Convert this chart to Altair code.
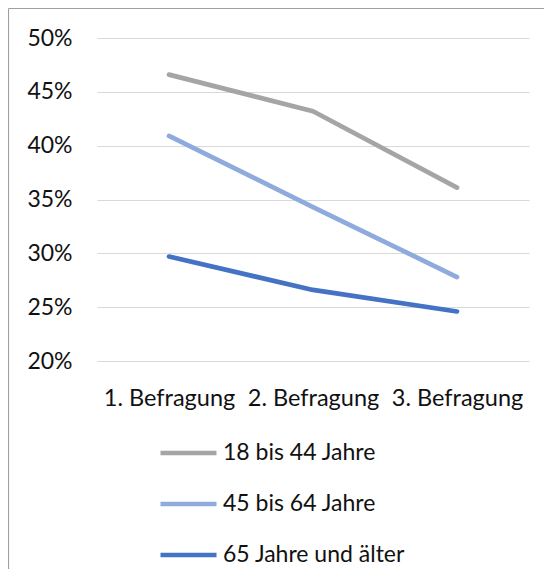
import altair as alt
import pandas as pd

befragungen = ["1. Befragung", "2. Befragung", "3. Befragung"]
gruppen = ["18 bis 44 Jahre", "45 bis 64 Jahre", "65 Jahre und älter"]
werte_18_44 = [0.466, 0.432, 0.361]
werte_45_64 = [0.409, 0.343, 0.278]
werte_65 = [0.297, 0.266, 0.246]
farben = ["#A5A5A5", "#8FAADC", "#4472C4"]
y_ticks = [0.20, 0.25, 0.30, 0.35, 0.40, 0.45, 0.50]

rows = []
for g, vals in zip(gruppen, [werte_18_44, werte_45_64, werte_65]):
    for b, v in zip(befragungen, vals):
        rows.append({"Befragung": b, "Gruppe": g, "Wert": v})
df = pd.DataFrame(rows)

FONT = "Lato"
FS = 23
W, H = 432, 323
PAD = {"left": 89, "top": 30, "right": 15, "bottom": 208}

lines = alt.Chart(df).mark_line(strokeWidth=4.7, strokeCap="round", strokeJoin="round").encode(
    x=alt.X("Befragung:N", sort=befragungen, title=None,
            scale=alt.Scale(type="point", padding=0.5),
            axis=alt.Axis(labelAngle=0, domain=False, ticks=False, grid=False,
                          labelPadding=25, labelFontSize=FS + 0.5, labelColor="#111111",
                          labelFont=FONT, labelLimit=300)),
    y=alt.Y("Wert:Q", title=None,
            scale=alt.Scale(domain=[0.2, 0.5], nice=False, zero=False),
            axis=alt.Axis(format=".0%", values=y_ticks, domain=False, ticks=False,
                          gridColor="#D9D9D9", gridWidth=1.2, labelPadding=25,
                          labelFontSize=FS, labelColor="#111111", labelFont=FONT)),
    color=alt.Color("Gruppe:N", sort=gruppen, title=None,
                    scale=alt.Scale(domain=gruppen, range=farben),
                    legend=alt.Legend(orient="none", legendX=61, legendY=384.5,
                                      direction="vertical", symbolType="stroke",
                                      symbolSize=3136, symbolStrokeWidth=4.7,
                                      labelFontSize=FS, labelFont=FONT,
                                      labelColor="#111111", labelOffset=4,
                                      labelLimit=400, rowPadding=8)),
    order=alt.Order("Befragung:N"),
)

edge = pd.DataFrame({"a": [0]})
left_edge = alt.Chart(edge).mark_rule(stroke="#A0A0A0", strokeWidth=1.2).encode(
    x=alt.value(-88.5), y=alt.value(-29.5), y2=alt.value(H + PAD["bottom"]))
top_edge = alt.Chart(edge).mark_rule(stroke="#A0A0A0", strokeWidth=1.2).encode(
    y=alt.value(-29.5), x=alt.value(-88.5), x2=alt.value(W + PAD["right"]))

chart = alt.layer(left_edge, top_edge, lines).properties(
    width=W, height=H,
    autosize=alt.AutoSizeParams(type="none"),
    padding=PAD,
).configure_view(stroke=None)

chart.save("out.html", embed_options={"renderer": "svg", "actions": False})
